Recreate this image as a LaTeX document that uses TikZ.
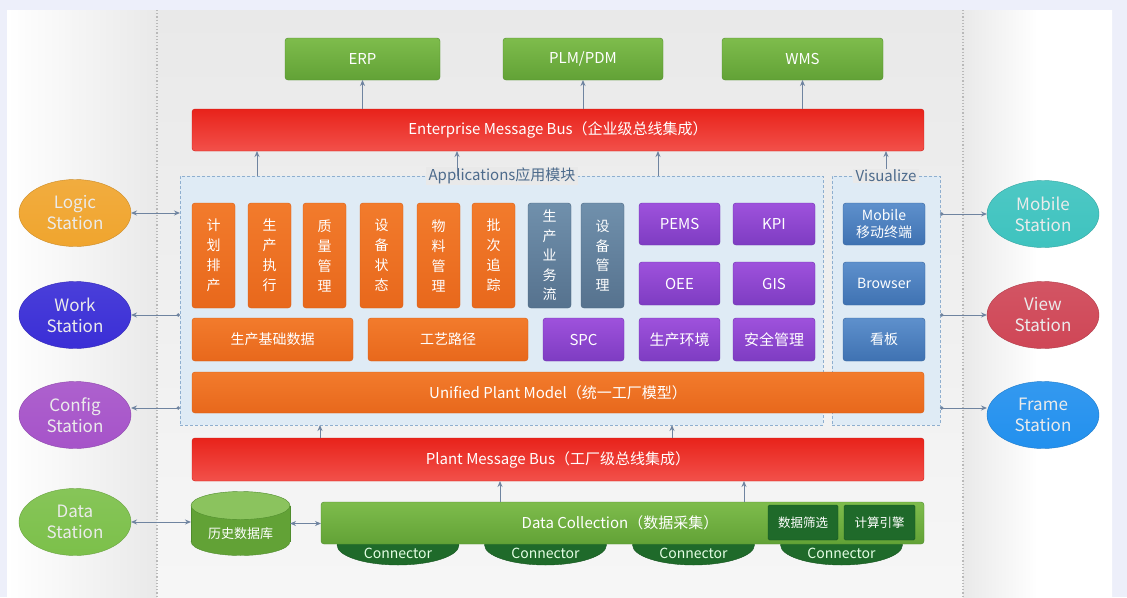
\documentclass[tikz,border=0pt]{standalone}
\usepackage{fontspec}
\setmainfont{Noto Sans CJK SC}
\usetikzlibrary{shapes.geometric,arrows.meta}
\definecolor{lav}{HTML}{EDEFFA}
\definecolor{colG}{HTML}{E9E9E9}
\definecolor{grnT}{HTML}{7EBC4C}
\definecolor{grnB}{HTML}{62A236}
\definecolor{grnD}{HTML}{4F8C2C}
\definecolor{redT}{HTML}{E8231B}
\definecolor{redB}{HTML}{F2504A}
\definecolor{redD}{HTML}{D01810}
\definecolor{orT}{HTML}{F27B2C}
\definecolor{orB}{HTML}{E8681C}
\definecolor{orD}{HTML}{D85E14}
\definecolor{gbT}{HTML}{7090AC}
\definecolor{gbB}{HTML}{56728E}
\definecolor{gbD}{HTML}{4A6680}
\definecolor{puT}{HTML}{9E52DC}
\definecolor{puB}{HTML}{7E3CC2}
\definecolor{puD}{HTML}{6C30AE}
\definecolor{blT}{HTML}{5E90CC}
\definecolor{blB}{HTML}{3F72B2}
\definecolor{blD}{HTML}{36649E}
\definecolor{dgr}{HTML}{1F6A2A}
\definecolor{dgrD}{HTML}{175620}
\definecolor{dashC}{HTML}{8FAFCF}
\definecolor{appF}{HTML}{DFEBF5}
\definecolor{arrC}{HTML}{6F84A0}
\definecolor{lblC}{HTML}{4D6B8C}
\definecolor{logicC}{HTML}{F0A52E}
\definecolor{workC}{HTML}{3A2ED6}
\definecolor{confC}{HTML}{A653C9}
\definecolor{dataC}{HTML}{7CC04A}
\definecolor{mobC}{HTML}{3EC3BF}
\definecolor{viewC}{HTML}{CF4656}
\definecolor{frameC}{HTML}{2290EE}
\begin{document}
\begin{tikzpicture}[x=1pt,y=-1pt,
  every node/.style={inner sep=0pt,outer sep=0pt},
  box/.style={rectangle,rounded corners=3pt,text=white,align=center},
  grn/.style={box,draw=grnD,top color=grnT,bottom color=grnB,font=\fontsize{15}{18}\selectfont},
  busbox/.style={box,draw=redD,top color=redT,bottom color=redB,font=\fontsize{15}{18}\selectfont},
  org/.style={box,draw=orD,top color=orT,bottom color=orB,font=\fontsize{14}{20}\selectfont},
  gby/.style={box,draw=gbD,top color=gbT,bottom color=gbB,font=\fontsize{14}{19.5}\selectfont},
  pur/.style={box,draw=puD,top color=puT,bottom color=puB,font=\fontsize{15}{18}\selectfont},
  blu/.style={box,draw=blD,top color=blT,bottom color=blB,font=\fontsize{14}{17}\selectfont},
  dbox/.style={box,rounded corners=1.5pt,draw=dgrD,fill=dgr,font=\fontsize{12.5}{15}\selectfont},
  dashbox/.style={rectangle,draw=dashC,fill=appF,line width=0.8pt,dash pattern=on 3pt off 2pt},
  grplabel/.style={fill=colG,inner xsep=3pt,inner ysep=1pt,text=lblC,font=\fontsize{15}{18}\selectfont},
  st/.style={ellipse,minimum width=112,minimum height=67,align=center,text=white!92!black,font=\fontsize{17}{21}\selectfont},
  stc/.style={st,draw=#1!85!black,top color=#1!92!white,bottom color=#1},
  conn/.style={ellipse,minimum width=122,minimum height=40,draw=dgrD,fill=dgr},
  ctext/.style={text=white!90!green,font=\fontsize{14}{16}\selectfont},
  arr/.style={draw=arrC,line width=1pt,-{Stealth[length=6pt,width=5pt]}},
  darr/.style={draw=arrC,line width=1pt,{Stealth[length=6pt,width=5pt]}-{Stealth[length=6pt,width=5pt]}},
  dotarr/.style={draw=arrC,line width=1pt,{Circle[length=3.5pt]}-{Stealth[length=6pt,width=5pt]}}
]
\newcommand\bx[7]{\node[#1,minimum width={#5-#3},minimum height={#6-#4}] (#2) at ({(#3+#5)/2},{(#4+#6)/2}) {#7};}
\useasboundingbox (0,0) rectangle (1127,597);
% background
\fill[lav] (0,0) rectangle (1127,597);
\fill[left color=white,right color=colG] (7,10) rectangle (157,597);
\fill[top color=colG,bottom color=white!60!colG] (157,10) rectangle (963,597);
\fill[left color=colG,right color=white,middle color=white] (963,10) rectangle (1112,597);
\draw[gray!55,dotted,line width=1.2pt] (157,10) -- (157,597);
\draw[gray!55,dotted,line width=1.2pt] (963,10) -- (963,597);

% top systems
\bx{grn}{erp}{285}{38}{440}{80}{ERP}
\bx{grn}{plm}{503}{38}{663}{80}{PLM/PDM}
\bx{grn}{wms}{722}{38}{883}{80}{WMS}
\bx{busbox}{ebus}{192}{109}{924}{151}{Enterprise Message Bus（企业级总线集成）}

% group boxes
\bx{dashbox}{apps}{180}{176}{823}{425}{}
\bx{dashbox}{vis}{832}{176}{940}{425}{}
\node[grplabel] (applbl) at (502,176) {Applications应用模块};
\node[grplabel] (vislbl) at (886,176) {Visualize};

% orange vertical modules
\bx{org}{o1}{192}{203}{235}{308}{计\\划\\排\\产}
\bx{org}{o2}{248}{203}{291}{308}{生\\产\\执\\行}
\bx{org}{o3}{303}{203}{346}{308}{质\\量\\管\\理}
\bx{org}{o4}{360}{203}{403}{308}{设\\备\\状\\态}
\bx{org}{o5}{417}{203}{460}{308}{物\\料\\管\\理}
\bx{org}{o6}{472}{203}{515}{308}{批\\次\\追\\踪}
\bx{gby}{g1}{528}{203}{571}{308}{生\\产\\业\\务\\流}
\bx{gby}{g2}{581}{203}{624}{308}{设\\备\\管\\理}
% purple
\bx{pur}{pems}{639}{203}{720}{245}{PEMS}
\bx{pur}{kpi}{733}{203}{815}{245}{KPI}
\bx{pur}{oee}{639}{262}{720}{305}{OEE}
\bx{pur}{gis}{733}{262}{815}{305}{GIS}
% row 3
\bx{org}{ob1}{192}{318}{353}{361}{生产基础数据}
\bx{org}{ob2}{368}{318}{528}{361}{工艺路径}
\bx{pur}{spc}{543}{318}{624}{361}{SPC}
\bx{pur}{env}{639}{318}{720}{361}{生产环境}
\bx{pur}{safe}{733}{318}{815}{361}{安全管理}
% visualize
\bx{blu}{mob}{843}{203}{925}{245}{Mobile\\移动终端}
\bx{blu}{brw}{843}{262}{925}{305}{Browser}
\bx{blu}{kb}{843}{318}{925}{361}{看板}

\bx{org}{upm}{192}{372}{924}{413}{\fontsize{15}{18}\selectfont Unified Plant Model（统一工厂模型）}
\bx{busbox}{pbus}{192}{438}{924}{481}{Plant Message Bus（工厂级总线集成）}

% data layer: history database cylinder
\node[minimum width=99,minimum height=65] (cyl) at (240.5,523.5) {};
\filldraw[fill=grnB,draw=grnD] (240.5,541.5) ellipse [x radius=49.5,y radius=14];
\fill[grnB] (191,505.5) rectangle (290,541.5);
\draw[grnD] (191,505.5) -- (191,541.5) (290,505.5) -- (290,541.5);
\filldraw[fill=grnT!90!white,draw=grnD] (240.5,505.5) ellipse [x radius=49.5,y radius=14];
\node[text=white,font=\fontsize{13}{15}\selectfont] (cyltxt) at (240.5,534) {历史数据库};

\node[conn] (c1) at (398,545) {};
\node[conn] (c2) at (545.5,545) {};
\node[conn] (c3) at (693.5,545) {};
\node[conn] (c4) at (841.5,545) {};
\bx{grn}{dc}{321}{502}{924}{544}{}
\node[text=white,font=\fontsize{15}{18}\selectfont] (dctxt) at (620,523) {Data Collection（数据采集）};
\bx{dbox}{dsel}{768}{505}{838}{540}{数据筛选}
\bx{dbox}{calc}{844}{505}{915}{540}{计算引擎}
\node[ctext] (c1t) at (398,553) {Connector};
\node[ctext] (c2t) at (545.5,553) {Connector};
\node[ctext] (c3t) at (693.5,553) {Connector};
\node[ctext] (c4t) at (841.5,553) {Connector};

% stations
\node[stc=logicC] (logic) at (75,213) {Logic\\Station};
\node[stc=workC] (work) at (75,315) {Work\\Station};
\node[stc=confC] (config) at (75,415) {Config\\Station};
\node[stc=dataC] (data) at (75,522) {Data\\Station};
\node[stc=mobC] (mobst) at (1043,214) {Mobile\\Station};
\node[stc=viewC] (viewst) at (1043,315) {View\\Station};
\node[stc=frameC] (framest) at (1043,415) {Frame\\Station};

% connectors
\draw[arr] (ebus.north -| erp) -- (erp);
\draw[arr] (ebus.north -| plm) -- (plm);
\draw[arr] (ebus.north -| wms) -- (wms);
\foreach \xx in {257,457,658}{\draw[arr] (\xx,176) -- (\xx,151);}
\draw[arr] (vislbl) -- (vislbl |- ebus.south);
\draw[arr] (pbus.north -| 320,0) -- (apps.south -| 320,0);
\draw[arr] (pbus.north -| 672,0) -- (apps.south -| 672,0);
\draw[arr] (dc.north -| 500,0) -- (pbus.south -| 500,0);
\draw[arr] (dc.north -| 744,0) -- (pbus.south -| 744,0);

\draw[darr] (logic) -- (logic -| apps.west);
\draw[dotarr] (work -| apps.west) -- (work);
\draw[dotarr] ([yshift=7pt]config.east -| apps.west) -- ([yshift=7pt]config.east);
\draw[dotarr] (mobst -| vis.east) -- (mobst);
\draw[dotarr] (viewst -| vis.east) -- (viewst);
\draw[dotarr] ([yshift=7pt]framest.west -| vis.east) -- ([yshift=7pt]framest.west);
\draw[darr] (data.east) -- (data.east -| cyl.west);
\draw[darr] (cyl) -- (cyl -| dc.west);
\end{tikzpicture}
\end{document}
